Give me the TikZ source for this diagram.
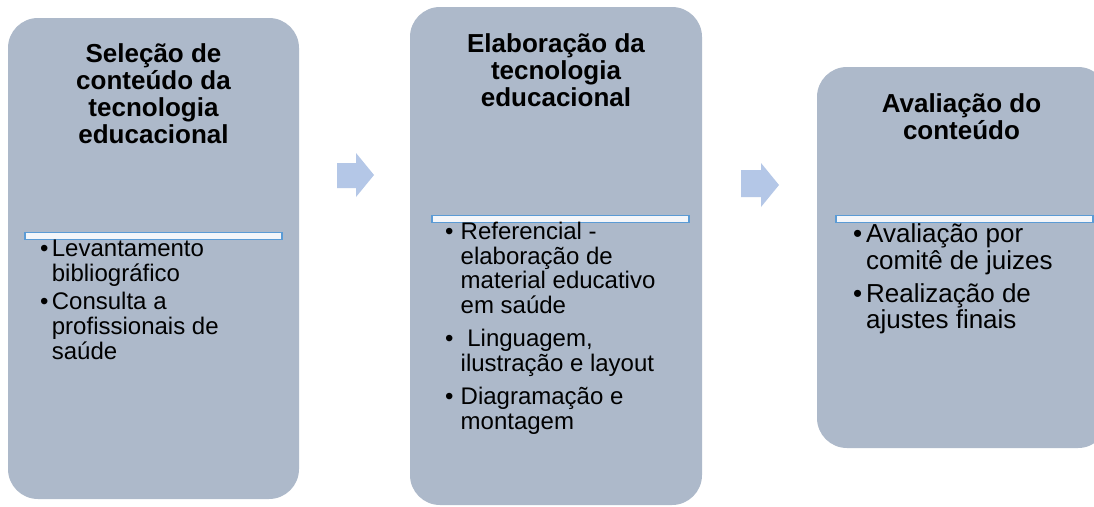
\documentclass[tikz,border=0pt]{standalone}
\usepackage{fontspec}
\setmainfont{Liberation Sans}
\usepackage{xcolor}
\usetikzlibrary{positioning}

\definecolor{stagefill}{HTML}{ADB9CA}
\definecolor{flowfill}{HTML}{B4C7E7}
\definecolor{barline}{HTML}{5B9BD5}
\definecolor{barfill}{HTML}{F4F6FA}

\tikzset{
  stage/.style={fill=stagefill, rounded corners=30pt, inner sep=0pt},
  stagebar/.style={fill=barfill, draw=barline, line width=1.8pt,
    minimum width=257pt, minimum height=7pt, inner sep=0pt},
  title/.style={anchor=north, inner sep=0pt},
  items/.style={anchor=north west, inner sep=0pt},
  flow/.style={fill=flowfill}
}

\begin{document}
\begin{tikzpicture}[x=1pt, y=-1pt]
  \fill[white] (0,0) rectangle (1094,506);
  \useasboundingbox (0,0) rectangle (1094,506);
  \clip (0,0) rectangle (1094,506);

  % the three stages
  \node[stage, minimum width=291pt, minimum height=481pt] (selecao) at (153.5,258.5) {};
  \node[stage, minimum width=292pt, minimum height=498pt] (elaboracao) at (556,256) {};
  \node[stage, minimum width=291pt, minimum height=381pt] (avaliacao) at (962.5,257.5) {};

  % block arrows between stages
  \fill[flow] (337,163) -- (356,163) -- (356,153) -- (374,175)
    -- (356,197) -- (356,188) -- (337,188) -- cycle;
  \fill[flow] (741,170) -- (761,170) -- (761,163) -- (779,185)
    -- (761,207) -- (761,197) -- (741,197) -- cycle;

  % bars
  \node[stagebar] (selecaobar) at (153.5,236) {};
  \node[stagebar] (elaboracaobar) at (560.5,219) {};
  \node[stagebar] (avaliacaobar) at (964.5,219) {};

  % titles
  \node[title, font=\fontsize{26}{27}\selectfont\bfseries] (selecaotitle) at (153.5,43.1)
    {\begin{tabular}{@{}c@{}}Seleção de\\conteúdo da\\tecnologia\\educacional\end{tabular}};
  \node[title, font=\fontsize{26}{26.5}\selectfont\bfseries] (elaboracaotitle) at (556,33.4)
    {\begin{tabular}{@{}c@{}}Elaboração da\\tecnologia\\educacional\end{tabular}};
  \node[title, font=\fontsize{26}{26}\selectfont\bfseries] (avaliacaotitle) at (961.5,93.8)
    {\begin{tabular}{@{}c@{}}Avaliação do\\conteúdo\end{tabular}};

  % bullet lists
  \node[items, font=\fontsize{24}{24.4}\selectfont] (selecaoitems) at (39.8,238.9)
    {\begin{tabular}{@{}p{11.9pt}@{}l@{}}
      \textbullet & Levantamento\\
                  & bibliográfico\\[4pt]
      \textbullet & Consulta a\\
                  & profissionais de\\
                  & saúde
    \end{tabular}};
  \node[items, font=\fontsize{24}{24.4}\selectfont] (elaboracaoitems) at (444.8,221.9)
    {\begin{tabular}{@{}p{15.7pt}@{}l@{}}
      \textbullet & Referencial -\\
                  & elaboração de\\
                  & material educativo\\
                  & em saúde\\[8.3pt]
      \textbullet & \ Linguagem,\\
                  & ilustração e layout\\[8.3pt]
      \textbullet & Diagramação e\\
                  & montagem
    \end{tabular}};
  \node[items, font=\fontsize{26}{26}\selectfont] (avaliacaoitems) at (853,223.8)
    {\begin{tabular}{@{}p{13pt}@{}l@{}}
      \textbullet & Avaliação por\\
                  & comitê de juizes\\[6pt]
      \textbullet & Realização de\\
                  & ajustes finais
    \end{tabular}};
\end{tikzpicture}
\end{document}
